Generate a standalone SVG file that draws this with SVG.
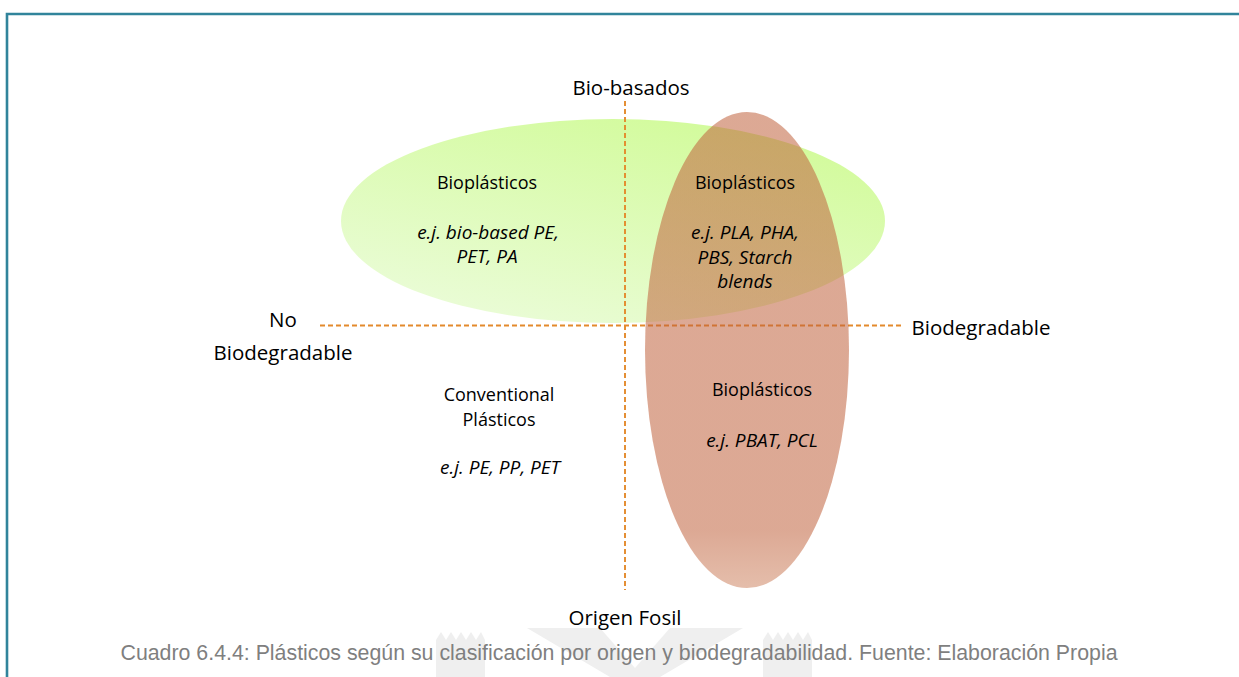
<svg xmlns="http://www.w3.org/2000/svg" width="1239" height="677" viewBox="0 0 1239 677">
  <style>
    .lbl { font-family: "Open Sans", "Liberation Sans", sans-serif; fill: #000; text-anchor: middle; }
    .axis { font-size: 20.5px; }
    .node { font-size: 18px; }
    .it { font-style: italic; font-size: 19px; }
    .dash { stroke: #e38a2c; stroke-width: 1.9; stroke-dasharray: 5 3; fill: none; }
    .cap { font-family: "Liberation Sans", Arial, sans-serif; font-size: 22.5px; fill: #7f7f7f; text-anchor: middle; }
    .wm { fill: #efefef; }
  </style>
  <defs>
    <linearGradient id="gGreen" x1="0.2" y1="1" x2="0.8" y2="0">
      <stop offset="0" stop-color="#ebfcd9"/>
      <stop offset="1" stop-color="#d1fb98"/>
    </linearGradient>
    <linearGradient id="gRed" x1="0" y1="0" x2="0" y2="1">
      <stop offset="0" stop-color="#c0623d" stop-opacity="0.55"/>
      <stop offset="0.88" stop-color="#c0623d" stop-opacity="0.55"/>
      <stop offset="1" stop-color="#c8764f" stop-opacity="0.48"/>
    </linearGradient>
  </defs>
  <rect x="0" y="0" width="1239" height="677" fill="#ffffff"/>
  <path d="M7,677 V14 H1239" fill="none" stroke="#31849b" stroke-width="2.6"/>
  <g id="watermark">
    <path class="wm" d="M436,677 V640 l5,-8 l5,8 l5,-8 l5,8 l5,-8 l5,8 l5,-8 l5,8 l5,-8 l4,8 V677 Z"/>
    <path class="wm" d="M527,628 H600 L635,668 L670,628 H743 L660,677 H610 Z"/>
    <path class="wm" d="M763,677 V640 l5,-8 l5,8 l5,-8 l5,8 l5,-8 l5,8 l5,-8 l5,8 l5,-8 l4,8 V677 Z"/>
  </g>
  <g id="bio-basados-ellipse">
    <ellipse cx="613" cy="221" rx="272" ry="102" fill="url(#gGreen)"/>
  </g>
  <g id="connectors">
    <line class="dash" x1="625" y1="101" x2="625" y2="590"/>
    <line class="dash" x1="320" y1="325.5" x2="901" y2="325.5"/>
  </g>
  <g id="biodegradable-ellipse">
    <ellipse cx="747" cy="350" rx="102" ry="238" fill="url(#gRed)"/>
  </g>
  <g id="axis-top"><text class="lbl axis" x="631" y="95">Bio-basados</text></g>
  <g id="axis-left"><text class="lbl axis" x="283" y="327">No</text><text class="lbl axis" x="283" y="360">Biodegradable</text></g>
  <g id="axis-right"><text class="lbl axis" x="981" y="335">Biodegradable</text></g>
  <g id="axis-bottom"><text class="lbl axis" x="625" y="625">Origen Fosil</text></g>
  <g id="q-bio-nonbio">
    <text class="lbl node" x="487" y="189">Bioplásticos</text>
    <text class="lbl node it" x="488" y="239">e.j. bio-based PE,</text>
    <text class="lbl node it" x="487" y="263">PET, PA</text>
  </g>
  <g id="q-bio-bio">
    <text class="lbl node" x="745" y="189">Bioplásticos</text>
    <text class="lbl node it" x="745" y="239">e.j. PLA, PHA,</text>
    <text class="lbl node it" x="745" y="264">PBS, Starch</text>
    <text class="lbl node it" x="745" y="288">blends</text>
  </g>
  <g id="q-fossil-nonbio">
    <text class="lbl node" x="499" y="401">Conventional</text>
    <text class="lbl node" x="499" y="426">Plásticos</text>
    <text class="lbl node it" x="500" y="474">e.j. PE, PP, PET</text>
  </g>
  <g id="q-fossil-bio">
    <text class="lbl node" x="762" y="396">Bioplásticos</text>
    <text class="lbl node it" x="762" y="447">e.j. PBAT, PCL</text>
  </g>
  <g id="caption">
    <text class="cap" x="619" y="660" textLength="997" lengthAdjust="spacingAndGlyphs">Cuadro 6.4.4: Plásticos según su clasificación por origen y biodegradabilidad. Fuente: Elaboración Propia</text>
  </g>
</svg>
